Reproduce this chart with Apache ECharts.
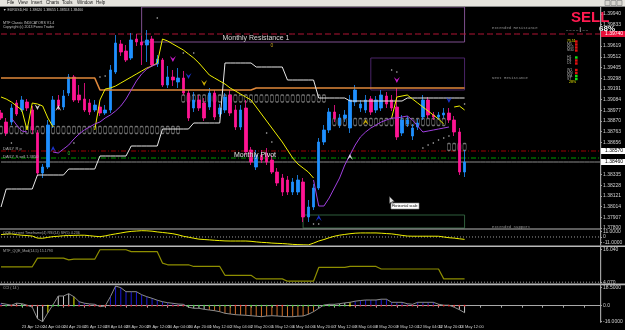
<!DOCTYPE html>
<html><head><meta charset="utf-8">
<script src="https://cdn.jsdelivr.net/npm/echarts@6/dist/echarts.min.js"></script>
<style>html,body{margin:0;padding:0;background:#000;}#c{width:625px;height:330px;}</style>
</head><body><div id="c"></div>
<script>
const N = 116; // slots on the time axis (bars + empty right margin)
const tickLabels = ['22 Apr 2014','23 Apr 12:00','24 Apr 04:00','24 Apr 20:00','25 Apr 12:00','28 Apr 04:00','28 Apr 20:00','29 Apr 12:00','30 Apr 04:00','30 Apr 20:00','1 May 12:00','2 May 04:00','2 May 20:00','5 May 12:00','6 May 04:00','6 May 20:00','7 May 12:00','8 May 04:00','8 May 20:00','9 May 12:00','12 May 04:00','12 May 20:00','13 May 12:00'];
const priceTicks = [1.39940,1.39833,1.39726,1.39619,1.39512,1.39405,1.39298,1.39191,1.39084,1.38977,1.38870,1.38763,1.38656,1.38549,1.38442,1.38335,1.38228,1.38121,1.38014,1.37907,1.37800];

// [open, close, low, high]
const candles = [
[1.3895,1.3890,1.3888,1.3898],[1.3886,1.3875,1.3872,1.3890],[1.3886,1.3900,1.3883,1.3904],[1.3905,1.3894,1.3892,1.3908],
[1.3898,1.3908,1.3896,1.3912],[1.3906,1.3900,1.3897,1.3909],[1.3898,1.3878,1.3874,1.3902],[1.3875,1.3835,1.3832,1.3878],
[1.3835,1.3841,1.3830,1.3844],[1.3841,1.3883,1.3839,1.3888],[1.3883,1.3908,1.3880,1.3912],[1.3908,1.3902,1.3898,1.3913],
[1.3901,1.3912,1.3898,1.3918],[1.3915,1.3931,1.3912,1.3934],[1.3931,1.3908,1.3906,1.3933],[1.3913,1.3908,1.3905,1.3923],
[1.3909,1.3898,1.3896,1.3925],[1.3905,1.3896,1.3893,1.3909],[1.3898,1.3903,1.3896,1.3908],[1.3901,1.3895,1.3892,1.3905],
[1.3895,1.3898,1.3893,1.3903],[1.3898,1.3938,1.3895,1.3943],[1.3936,1.3965,1.3934,1.3973],[1.3964,1.3956,1.3952,1.3968],
[1.3957,1.3948,1.3946,1.3963],[1.3950,1.3968,1.3948,1.3975],[1.3969,1.3966,1.3962,1.3974],[1.3966,1.3963,1.3943,1.3972],
[1.3963,1.3968,1.3946,1.3978],[1.3969,1.3943,1.3941,1.3972],[1.3944,1.3949,1.3941,1.3953],[1.3948,1.3923,1.3921,1.3950],
[1.3923,1.3931,1.3920,1.3942],[1.3931,1.3928,1.3922,1.3938],[1.3926,1.3930,1.3920,1.3940],[1.3930,1.3915,1.3913,1.3937],
[1.3915,1.3890,1.3887,1.3918],[1.3900,1.3908,1.3896,1.3916],[1.3908,1.3900,1.3897,1.3913],[1.3905,1.3890,1.3887,1.3910],
[1.3901,1.3915,1.3898,1.3920],[1.3915,1.3891,1.3888,1.3918],[1.3894,1.3900,1.3891,1.3904],[1.3898,1.3911,1.3895,1.3915],
[1.3913,1.3895,1.3892,1.3918],[1.3898,1.3881,1.3878,1.3903],[1.3881,1.3898,1.3878,1.3903],[1.3900,1.3856,1.3853,1.3908],
[1.3858,1.3846,1.3843,1.3861],[1.3841,1.3853,1.3838,1.3858],[1.3853,1.3848,1.3845,1.3858],[1.3855,1.3846,1.3843,1.3860],
[1.3848,1.3836,1.3834,1.3853],[1.3836,1.3825,1.3822,1.3840],[1.3830,1.3816,1.3812,1.3834],[1.3828,1.3816,1.3813,1.3832],
[1.3816,1.3826,1.3813,1.3830],[1.3816,1.3828,1.3813,1.3833],[1.3826,1.3791,1.3786,1.3830],[1.3791,1.3801,1.3786,1.3808],
[1.3801,1.3820,1.3798,1.3824],[1.3820,1.3866,1.3818,1.3870],[1.3866,1.3878,1.3863,1.3883],[1.3878,1.3896,1.3875,1.3900],
[1.3896,1.3890,1.3886,1.3903],[1.3883,1.3890,1.3880,1.3894],[1.3890,1.3893,1.3886,1.3898],[1.3880,1.3908,1.3875,1.3913],
[1.3906,1.3918,1.3902,1.3923],[1.3900,1.3904,1.3896,1.3908],[1.3898,1.3908,1.3895,1.3913],[1.3909,1.3896,1.3893,1.3912],
[1.3898,1.3908,1.3895,1.3912],[1.3900,1.3913,1.3897,1.3918],[1.3912,1.3904,1.3900,1.3916],[1.3908,1.3900,1.3897,1.3913],
[1.3901,1.3871,1.3868,1.3920],[1.3875,1.3888,1.3872,1.3893],[1.3884,1.3888,1.3881,1.3892],[1.3872,1.3880,1.3868,1.3884],
[1.3881,1.3885,1.3878,1.3889],[1.3891,1.3908,1.3888,1.3913],[1.3908,1.3893,1.3890,1.3911],[1.3893,1.3891,1.3888,1.3896],
[1.3891,1.3893,1.3888,1.3896],[1.3893,1.3895,1.3890,1.3900],[1.3895,1.3888,1.3885,1.3900],[1.3888,1.3876,1.3872,1.3892],
[1.3876,1.3836,1.3833,1.3880],[1.3836,1.3846,1.3831,1.3858]
];

// horizontal levels drawn across the whole chart [price, colour, dash]
const hLevels = [[1.3974,'#b01434',[6,3]],[1.3857,'#a00000',[5,2,1,2]],[1.3850,'#00a000',[5,2,1,2]],[1.3846,'#8a8a8a','solid']];

// step indicators as runs [firstBar, lastBar, level]
const whiteRuns = [[0,0,1.3801],[1,6,1.3819],[7,12,1.3833],[13,18,1.3839],[19,24,1.3852],[25,30,1.3862],[31,36,1.3879],[37,42,1.3885],[43,48,1.3945],[49,54,1.3941],[55,60,1.3928],[61,66,1.3910],[67,77,1.3907],[78,89,1.3910]];
const orangeRuns = [[0,18,1.3930],[19,48,1.3918],[49,89,1.3920]];
const boxRuns = [[0,34,1.3878],[35,62,1.39095],[63,85,1.3886],[86,89,1.3861]];

const yellowLine = [1.3911,1.3909,1.3906,1.3902,1.3898,1.3878,1.3905,1.3904,1.3902,1.3890,
1.3881,null,null,null,null,null,null,null,1.3878,1.3908,
1.3919,1.3920,1.3922,1.3925,1.3928,1.3931,1.3934,1.3937,1.3940,1.3942,
1.3945,1.3969,1.3967,1.3964,1.3961,1.3958,1.3954,1.3950,1.3945,1.3939,
1.3933,1.3930,1.3927,1.3924,1.3920,1.3917,1.3914,1.3911,1.3908,1.3901,
1.3894,1.3887,1.3880,1.3873,1.3866,1.3858,1.3850,1.3844,1.3840,1.3836,
1.3830,null,null,null,null,null,null,null,null,null,
null,null,null,null,null,1.3890,1.3911,1.3912,1.3913,1.3909,
1.3905,1.3901,1.3897,1.3893,1.3889,1.3884,null,1.3901,1.3902,1.3898];

const purpleLine = [null,null,1.3890,1.3883,1.3877,1.3876,null,null,null,null,
1.3856,1.3855,1.3859,1.3863,1.3869,1.3874,1.3878,1.3881,1.3884,1.3886,
1.3890,1.3893,1.3897,1.3902,1.3909,1.3918,1.3927,1.3934,1.3939,1.3942,
1.3944,null,null,null,null,null,null,null,null,null,
null,null,null,null,null,null,null,null,null,null,
null,null,null,null,null,null,null,null,null,null,
1.3828,1.3802,1.3802,1.3810,1.3820,1.3830,1.3843,1.3853,1.3863,1.3871,
1.3876,1.3880,1.3883,1.3886,1.3888,1.3890,1.3890,1.3891,1.3892,1.3888,
1.3882,1.3876,1.3877,1.3878,1.3879,1.3880,1.3881,null,null,null];

// fractal / trailing dots [bar, price]
const dotPoints = [[2,1.3865],[14,1.3865],[19,1.3931],[20,1.3932],[30,1.3990],[35,1.3955],[37,1.3955],[51,1.3875],[52,1.3866],[60,1.3784],[61,1.3784],[75,1.3938],[76,1.3936],[81,1.3860],[82,1.3863],[83,1.3865],[84,1.3868],[85,1.3870],[86,1.3872],[89,1.3904]];
// signal arrows [bar, price, colour]
const downArrows = [[7,1.3901,'#ffffff'],[33,1.3949,'#ff20ff'],[36,1.3932,'#2040ff'],[39,1.3925,'#ffd800'],[76,1.3928,'#ff20ff'],[86,1.3908,'#2040ff']];
const upArrows = [[10,1.3859,'#2040ff'],[11,1.3900,'#ffffff'],[61,1.3790,'#2040ff'],[67,1.3851,'#ffffff'],[70,1.3886,'#ffd800']];

// sub-window 1 (QQE)
const qqeLine = [4.6,5.6,5.9,4.5,3.4,2.8,1.8,-2.1,-2.5,-0.7,0.7,1.4,2.5,2.8,3.1,3.4,3.4,2.5,1.4,0.6,
2.1,4.2,6.0,7.7,9.5,10.8,11.5,12.2,11.9,11.2,9.8,8.7,7.6,6.3,4.2,1.4,-0.4,-2.4,-4.2,-4.9,
-5.6,-6.4,-7.0,-7.6,-7.8,-7.8,-7.8,-7.8,-8.4,-9.5,-10.4,-10.9,-11.8,-12.3,-12.7,-13.4,-14.3,-14.8,-15.1,-15.4,
-11.9,-7.8,-4.9,-1.5,1.4,3.5,4.9,6.3,7.3,7.8,7.8,7.8,7.8,7.3,6.6,6.0,4.6,3.1,1.8,1.5,
1.5,1.5,1.5,1.5,1.4,0,-1.4,-2.2,-3.5,-4.6];
const qqeTicks = [11, 0, -11];
const qqeLevel = 0;
// sub-window 2 (MTF QQE) as runs
const mtfRuns = [[0,6,9.8],[7,12,12.93],[13,13,12.32],[14,18,12.57],[19,24,16.0],[25,30,15.3],[31,31,11.14],[32,36,10.53],[37,42,9.92],[43,48,6.7],[49,54,5.4],[55,60,4.55],[61,66,9.56],[67,72,9.92],[73,84,8.99],[85,89,5.4]];
const mtfTicks = [16.04, 4.07];
const mtfLevel = 4.2;
// sub-window 3 (CCI histogram)
const cciValues = [2.4,1.5,0.5,2.5,2,0.5,-1.5,-13,-16,-7,1,9.7,9.7,12,9,4,2.5,1.8,1.4,-1,
-0.3,9,19.7,18,14,14,14,11,9,7.4,5.5,4,3,2.4,1.7,1.4,-1.5,-2.6,-2.6,-3.6,
-4.3,-5,-6,-7.6,-8.3,-9,-9.3,-9.6,-10,-10.5,-11,-10.3,-10,-10.3,-10.7,-11,-11,-10.5,-10.3,-8.6,
-6,-2.6,0.7,1.4,1.4,2,2.8,3.4,4.5,5.2,5.7,5.7,5.7,6.5,6.5,3.4,3.4,3.4,2,1.4,
3.4,3.4,3.4,3.4,1.5,0.5,0.5,-1.5,-4,-7];
const cciColorRuns = [[0,1,'b'],[2,8,'w'],[9,9,'y'],[10,13,'w'],[14,14,'y'],[15,35,'b'],[36,39,'w'],[40,60,'o'],[61,66,'w'],[67,67,'y'],[68,83,'b'],[84,89,'w']];
const cciDotRuns = [[0,0,'r'],[1,1,'g'],[2,3,'r'],[4,4,'g'],[5,8,'r'],[9,9,'y'],[10,11,'g'],[12,13,'r'],[14,14,'g'],[15,35,'r'],[36,44,'g'],[45,47,'r'],[48,52,'g'],[53,54,'r'],[55,66,'g'],[67,67,'y'],[68,89,'r']];
const cciTicks = [18.5, 0, -16];

const palette = {b:'#1a1ad8', w:'#c8c8c8', y:'#f0f000', o:'#d2702a', r:'#ff2020', g:'#20e020'};
const BARS = candles.length;
function expand(runs){ const a = new Array(BARS).fill(null); runs.forEach(([s,e,v])=>{ for(let i=s;i<=e;i++) a[i]=v; }); return a; }
function level(v){ return new Array(N).fill(v); }
const cats = Array.from({length:N}, (_,i)=>String(i));
const F = 'Liberation Sans, Arial, sans-serif';

const boxLevels = expand(boxRuns);
const cciColors = expand(cciColorRuns);
const cciDots = expand(cciDotRuns);

function xAx(g, bottom){
  const a = {gridIndex:g, type:'category', data:cats, boundaryGap:false,
    axisLine:{show:false}, axisTick:{show:false}, axisLabel:{show:false}, splitLine:{show:false}};
  if(bottom){
    a.axisLine = {show:true, lineStyle:{color:'#a8a8a8', width:1}};
    a.axisTick = {show:true, interval:3, length:2, lineStyle:{color:'#a8a8a8'}};
    a.axisLabel = {show:true, interval:3, fontSize:4, color:'#d0d0d0', fontFamily:F, align:'left', margin:2.5,
      formatter:(v,idx)=> (idx%4===0 && tickLabels[idx/4]) ? tickLabels[idx/4] : ''};
  }
  return a;
}
function yAx(g, min, max, ticks, fmt){
  return {gridIndex:g, type:'value', position:'right', min:min, max:max,
    splitLine:{show:false},
    axisLine:{show:true, lineStyle:{color:'#a0a0a0'}},
    axisTick:{show:true, length:2, customValues:ticks, lineStyle:{color:'#a0a0a0'}},
    axisLabel:{show:true, customValues:ticks, formatter:fmt, fontSize:5, color:'#d0d0d0', fontFamily:F, margin:3}};
}

const arrowDown = 'path://M0,0 L5,9 L10,0 L5,4 Z';
const arrowUp = 'path://M0,9 L5,0 L10,9 L5,5 Z';

const T = (x,y,text,size,fill,extra)=>({type:'text', z:100, x:x, y:y, style:Object.assign({text:text, fontSize:size, fill:fill, fontFamily:F, textVerticalAlign:'middle'}, extra||{})});
const R = (x,y,w,h,fill,stroke)=>({type:'rect', z:100, shape:{x:x,y:y,width:w,height:h}, style:{fill:fill, stroke:stroke||null, lineWidth:stroke?0.6:0}});

const graphic = [
  R(0,0,625,6,'#e6e4de'), R(0,6,625,1,'#8a8a8a'),
  T(7,3,'File',4.5,'#222'), T(18,3,'View',4.5,'#222'), T(31,3,'Insert',4.5,'#222'), T(46,3,'Charts',4.5,'#222'),
  T(62,3,'Tools',4.5,'#222'), T(77,3,'Window',4.5,'#222'), T(96,3,'Help',4.5,'#222'),
  R(605,0.5,5,5,'#d8d6d0','#777'), R(611,0.5,5,5,'#d8d6d0','#777'), R(617,0.5,5,5,'#d8d6d0','#777'),
  T(3,10.5,'▼ EURUSD,H4  1.38620 1.38655 1.38553 1.38460',3.5,'#d0d0d0'),
  T(3,22.5,'MTF Classic INDICATORS V1.4',3.6,'#c0c0c0'),
  T(3,26.8,'Copyright (c) 2013 Forex Trader',3.6,'#c0c0c0'),
  T(256,38,'Monthly Resistance 1',7,'#d8d8d8',{textAlign:'center'}),
  T(272,46,'0',5,'#c8a020',{textAlign:'center'}),
  T(255,155.5,'Monthly Pivot',7,'#e6e6e6',{textAlign:'center', textShadowColor:'#000', textShadowBlur:2}),
  T(69,153.5,'0',5,'#20c020',{textAlign:'center'}),
  T(3,148.5,'DAILY R p',4,'#b0b0b0'), T(3,156.5,'DAILY S sell 1.3850',4,'#b0b0b0'),
  T(492,27.5,'Extended Resistance',4,'#909090',{fontFamily:'Liberation Mono, monospace'}),
  T(492,78,'Next Resistance',4,'#909090',{fontFamily:'Liberation Mono, monospace'}),
  T(492,227,'Extended Support',4,'#909090',{fontFamily:'Liberation Mono, monospace'}),
  T(571,18,'SELL',15,'#ff1a50',{fontWeight:'bold'}),
  T(566,29.5,'– – – – ┃ – –',4,'#d8d8d8'),
  T(599,29,'68%',8,'#ffffff',{fontWeight:'bold'}),
  T(567,41.5,'75.51',3.5,'#e8e800'), T(567,44.5,'M5',3.5,'#aaa'), T(567,47.5,'M15',3.5,'#aaa'), T(567,50.5,'M30',3.5,'#aaa'),
  T(567,57.5,'H1',3.5,'#aaa'), T(567,60.5,'H4',3.5,'#aaa'), T(567,63.5,'D1',3.5,'#aaa'),
  T(567,70,'W1',3.5,'#aaa'), T(567,73,'MN',3.5,'#aaa'), T(567,76,'MA',3.5,'#aaa'), T(567,79,'ST',3.5,'#aaa'),
  T(569,81.8,'28%',3.5,'#e8e800'),
  R(575,40.3,2.6,2.4,'#e01010'), R(575,43.3,2.6,2.4,'#e01010'), R(575,46.3,2.6,2.4,'#e01010'), R(575,49.3,2.6,2.4,'#e01010'),
  R(575,56.3,2.6,2.4,'#10e010'), R(575,59.3,2.6,2.4,'#e01010'), R(575,62.3,2.6,2.4,'#e01010'),
  R(575,68.8,2.6,2.4,'#e01010'), R(575,71.8,2.6,2.4,'#e01010'), R(575,74.8,2.6,2.4,'#10e010'), R(575,77.8,2.6,2.4,'#10e010'),
  R(391,203,28,6,'#ffffff','#888'), T(392,206,'Horizontal scale',3.6,'#000'),
  {type:'polygon', z:100, shape:{points:[[389.5,196.5],[389.5,203.5],[391.2,202],[392.6,204.8],[393.5,204.4],[392.2,201.6],[394.4,201.6]]}, style:{fill:'#e0e0e0', stroke:'#444', lineWidth:0.4}},
  // window separators
  R(0,228.6,601,1,'#b8b8b8'), R(0,245.4,625,1.6,'#b8b8b8'), R(0,283.6,625,1.6,'#b8b8b8'),
  R(600.4,7,0.8,316,'#a0a0a0'),
  T(3,232.5,'QQE Current Timeframe(4) RSI(14) SF(5) 4.236',3.6,'#a8a8a8'),
  T(3,250.5,'MTF_QQE_Mod(14,5) 15.1793',3.6,'#a8a8a8'),
  T(3,288,'CCI ( 14 )',3.6,'#a8a8a8'),
  // price boxes on the axis
  R(601,31,24,6,'#e8103a'), T(605,34,'1.39740',5,'#ffffff'),
  R(601,148,24,6,'#ffffff'), T(605,151,'1.38570',5,'#000000'),
  R(601,159,24,6,'#ffffff'), T(605,162,'1.38460',5,'#000000')
];

const levelSeries = hLevels.map(([p,c,t])=>({type:'line', xAxisIndex:0, yAxisIndex:0, z:1, data:level(p), showSymbol:false, silent:true,
  lineStyle:{color:c, type:t, width:1}}));

const option = {
  backgroundColor:'#000000',
  animation:false,
  grid:[
    {left:1, top:7, width:599, height:221, outerBoundsMode:'none', containLabel:false},
    {left:1, top:230, width:599, height:15, outerBoundsMode:'none', containLabel:false},
    {left:1, top:247, width:599, height:36, outerBoundsMode:'none', containLabel:false},
    {left:1, top:285, width:599, height:37, outerBoundsMode:'none', containLabel:false}
  ],
  xAxis:[xAx(0,false), xAx(1,false), xAx(2,false), xAx(3,true)],
  yAxis:[
    yAx(0, 1.3780, 1.4001, priceTicks, v=>v.toFixed(5)),
    yAx(1, -15.5, 13.5, qqeTicks, v=> v===0 ? '0' : v.toFixed(4)),
    yAx(2, 3.9, 17.0, mtfTicks, v=>v.toFixed(3)),
    yAx(3, -16.3, 20.7, cciTicks, v=> v===0 ? '0.0' : v.toFixed(4))
  ],
  series:[
    ...levelSeries,
    {type:'scatter', name:'levels', xAxisIndex:0, yAxisIndex:0, z:1, silent:true,
     symbol:'roundRect', symbolSize:[3.2,7],
     itemStyle:{color:'rgba(0,0,0,0)', borderColor:'#8e8e8e', borderWidth:0.9},
     data: boxLevels.map((v,i)=> v==null ? null : [i, v]).filter(Boolean)},
    {type:'candlestick', name:'EURUSD', xAxisIndex:0, yAxisIndex:0, z:2, barWidth:3,
     itemStyle:{color:'#1e90ff', color0:'#ff1493', borderColor:'#1e90ff', borderColor0:'#ff1493', borderWidth:0.8},
     data:candles,
     markArea:{silent:true, label:{show:false},
       data:[
         [{xAxis:'27', yAxis:1.4001, itemStyle:{color:'rgba(0,0,0,0)', borderColor:'#7e4f8e', borderWidth:1}}, {xAxis:'89', yAxis:1.3966}],
         [{xAxis:'71', yAxis:1.3950, itemStyle:{color:'rgba(0,0,0,0)', borderColor:'#4a2468', borderWidth:1}}, {xAxis:'89', yAxis:1.3918}],
         [{xAxis:'58', yAxis:1.3793, itemStyle:{color:'rgba(0,0,0,0)', borderColor:'#2f5e3c', borderWidth:1}}, {xAxis:'89', yAxis:1.3780}]
       ]}},
    {type:'line', name:'orange', xAxisIndex:0, yAxisIndex:0, z:3, data:expand(orangeRuns), showSymbol:false, silent:true,
     lineStyle:{color:'#e0883a', width:1.6}},
    {type:'line', name:'white', xAxisIndex:0, yAxisIndex:0, z:3, data:expand(whiteRuns), showSymbol:false, silent:true,
     lineStyle:{color:'#e8e8e8', width:1}},
    {type:'line', name:'yellow', xAxisIndex:0, yAxisIndex:0, z:4, data:yellowLine, showSymbol:false, connectNulls:false, silent:true,
     lineStyle:{color:'#f0f000', width:1}},
    {type:'line', name:'purple', xAxisIndex:0, yAxisIndex:0, z:4, data:purpleLine, showSymbol:false, connectNulls:false, silent:true,
     lineStyle:{color:'#a040e0', width:1}},
    {type:'scatter', name:'dots', xAxisIndex:0, yAxisIndex:0, z:5, silent:true, symbolSize:1.6,
     itemStyle:{color:'#e8e8e8'}, data:dotPoints},
    {type:'scatter', name:'down', xAxisIndex:0, yAxisIndex:0, z:6, silent:true, symbol:arrowDown, symbolSize:[6,6],
     data:downArrows.map(a=>({value:[a[0],a[1]], itemStyle:{color:a[2]}}))},
    {type:'scatter', name:'up', xAxisIndex:0, yAxisIndex:0, z:6, silent:true, symbol:arrowUp, symbolSize:[6,6],
     data:upArrows.map(a=>({value:[a[0],a[1]], itemStyle:{color:a[2]}}))},
    {type:'line', name:'qqeLevel', xAxisIndex:1, yAxisIndex:1, data:level(qqeLevel), showSymbol:false, silent:true,
     lineStyle:{color:'#c8c8c8', type:[1,2], width:0.8}},
    {type:'line', name:'qqe', xAxisIndex:1, yAxisIndex:1, data:qqeLine, showSymbol:false, silent:true,
     lineStyle:{color:'#f0f000', width:1}},
    {type:'line', name:'mtfLevel', xAxisIndex:2, yAxisIndex:2, data:level(mtfLevel), showSymbol:false, silent:true,
     lineStyle:{color:'#c8c8c8', type:[1,2], width:0.8}},
    {type:'line', name:'mtf', xAxisIndex:2, yAxisIndex:2, data:expand(mtfRuns), showSymbol:false, silent:true,
     lineStyle:{color:'#8e8e00', width:1.2}},
    {type:'bar', name:'cci', xAxisIndex:3, yAxisIndex:3, barWidth:1, silent:true,
     data:cciValues.map((v,i)=>({value:v, itemStyle:{color:palette[cciColors[i]]}}))},
    {type:'line', name:'cciLine', xAxisIndex:3, yAxisIndex:3, data:cciValues, showSymbol:false, silent:true,
     lineStyle:{color:'#8c8c8c', width:1}},
    {type:'scatter', name:'cciDots', xAxisIndex:3, yAxisIndex:3, silent:true, symbolSize:1.8, z:5,
     data:cciDots.map((c,i)=>({value:[i,0], itemStyle:{color:palette[c]}}))}
  ],
  graphic:graphic
};
const chart = echarts.init(document.getElementById('c'), null, {renderer:'canvas'});
chart.setOption(option);
</script></body></html>
